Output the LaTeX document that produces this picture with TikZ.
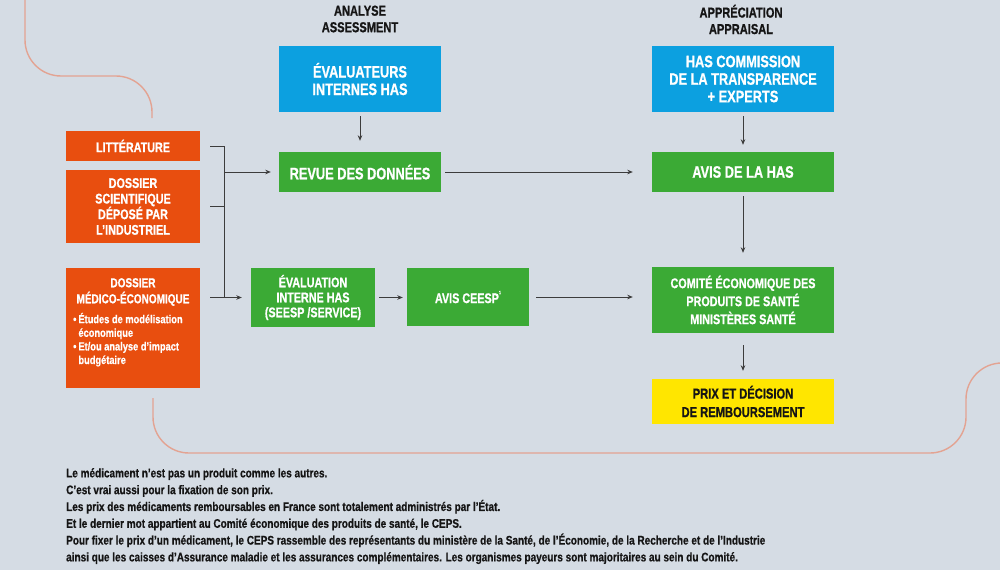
\documentclass[tikz,border=0pt]{standalone}
\usepackage{fontspec}
\setmainfont{Liberation Sans}[FakeStretch=0.77, BoldFeatures={FakeBold=0.8}]
\newfontfamily\bodyfont{Liberation Sans}[FakeStretch=0.8, BoldFeatures={FakeBold=0.6}]
\usetikzlibrary{arrows.meta,calc}
\definecolor{bg}{HTML}{D5DCE4}
\definecolor{cblue}{HTML}{0CA0E0}
\definecolor{cgreen}{HTML}{3BAA35}
\definecolor{corange}{HTML}{E84E0F}
\definecolor{cyellow}{HTML}{FFE600}
\definecolor{cline}{HTML}{3C3C3C}
\definecolor{csalmon}{HTML}{E3A392}
\definecolor{ctext}{HTML}{151515}
\begin{document}
\begin{tikzpicture}[x=1pt,y=-1pt,
  box/.style={draw=none, inner sep=0pt, align=center, text=white},
  big/.style={font=\bfseries\fontsize{16.6}{17.5}\selectfont},
  mid/.style={font=\bfseries\fontsize{14}{15}\selectfont},
  bluebox/.style={box, big, fill=cblue},
  greenbox/.style={box, fill=cgreen},
  orangebox/.style={box, mid, fill=corange},
  yellowbox/.style={box, fill=cyellow, text=ctext},
  header/.style={align=center, text=ctext, inner sep=0pt, font=\bfseries\fontsize{14.4}{16.5}\selectfont},
  conn/.style={draw=cline, line width=0.8pt, -{Stealth[length=5.5pt,width=4.5pt]}},
  plain/.style={draw=cline, line width=0.8pt},
  deco/.style={draw=csalmon, line width=1.4pt, rounded corners=36pt}
]
\fill[bg] (0,0) rectangle (1000,570);
\useasboundingbox (0,0) rectangle (1000,570);

% decorative curves
\draw[deco] (25,-5) -- (25,76) -- (152,76) -- (152,118);
\draw[deco] (153,398) -- (153,453) -- (966,453) -- (966,363) -- (1010,363);

% headers
\node[header] (h1) at (360,19) {ANALYSE\\ASSESSMENT};
\node[header] (h2) at (741,19.5) {APPRÉCIATION\\APPRAISAL};

% top boxes
\node[bluebox, minimum width=162pt, minimum height=66pt] (eval) at (360,79) {ÉVALUATEURS\\INTERNES HAS};
\node[bluebox, minimum width=182pt, minimum height=66pt] (has) at (743,79) {HAS COMMISSION\\DE LA TRANSPARENCE\\+ EXPERTS};

\node[greenbox, big, minimum width=162pt, minimum height=40pt] (revue) at (360,172) {REVUE DES DONNÉES};
\node[greenbox, big, minimum width=182pt, minimum height=40pt] (avishas) at (743,172) {AVIS DE LA HAS};

% orange sources
\node[orangebox, minimum width=134pt, minimum height=30pt] (lit) at (133,146) {LITTÉRATURE};
\node[orangebox, font=\bfseries\fontsize{14}{15.6}\selectfont, minimum width=134pt, minimum height=73pt] (dsci) at (133,206.5) {DOSSIER\\SCIENTIFIQUE\\DÉPOSÉ PAR\\L’INDUSTRIEL};
\node[orangebox, minimum width=134pt, minimum height=120pt] (dmed) at (133,328) {};
\node[box, font=\bfseries\fontsize{13}{16}\selectfont] (dmedt) at (133,292) {DOSSIER\\MÉDICO-ÉCONOMIQUE};
\node[box, anchor=west, align=left, font=\bodyfont\bfseries\fontsize{11.6}{13.6}\selectfont] (dmedb) at (73,340.5)
  {\begin{tabular}{@{}l@{\hspace{2pt}}l@{}}•&Études de modélisation\\&économique\\•&Et/ou analyse d’impact\\&budgétaire\end{tabular}};

% lower row
\node[greenbox, mid, minimum width=124pt, minimum height=59pt] (evalint) at (313,297.5) {ÉVALUATION\\INTERNE HAS\\(SEESP /SERVICE)};
\node[greenbox, mid, minimum width=122pt, minimum height=58pt] (ceesp) at (468,297) {AVIS CEESP\raisebox{1.2ex}{\fontsize{5}{5}\selectfont 1}};
\node[greenbox, font=\bfseries\fontsize{14}{18}\selectfont, minimum width=182pt, minimum height=66pt] (comite) at (743,300) {COMITÉ ÉCONOMIQUE DES\\PRODUITS DE SANTÉ\\MINISTÈRES SANTÉ};
\node[yellowbox, font=\bfseries\fontsize{14.5}{18.5}\selectfont, minimum width=182pt, minimum height=45pt] (prix) at (743,401.5) {PRIX ET DÉCISION\\DE REMBOURSEMENT};

% connectors
\draw[conn] ($(eval.south)+(0,4)$) -- ($(revue.north)+(0,-11)$);
\draw[conn] ($(has.south)+(0,4)$) -- ($(avishas.north)+(0,-7)$);
\draw[conn] ($(avishas.south)+(0,4)$) -- ($(comite.north)+(0,-14)$);
\draw[conn] ($(comite.south)+(0,12)$) -- ($(prix.north)+(0,-8)$);
\draw[conn] ($(revue.east)+(4,0)$) -- ($(avishas.west)+(-19,0)$);
\draw[conn] ($(ceesp.east)+(7,0)$) -- ($(comite.west |- ceesp.east)+(-19,0)$);
\draw[conn] ($(evalint.east)+(4,0)$) -- ($(ceesp.west |- evalint.east)+(-4,0)$);

% bracket
\coordinate (jtop) at ($(lit.east)+(24,0)$);
\coordinate (jrev) at (jtop |- revue.west);
\coordinate (jbot) at (jtop |- evalint.west);
\draw[plain] ($(lit.east)+(10,0)$) -- (jtop) -- (jbot);
\draw[plain] ($(dsci.east)+(10,0)$) -- (jtop |- dsci.east);
\draw[conn] (jrev) -- ($(revue.west)+(-8,0)$);
\draw[conn] ($(dmed.east |- evalint.west)+(10,0)$) -- ($(evalint.west)+(-9,0)$);

% bottom text
\node[anchor=north west, inner sep=0pt, align=left, text=ctext, font=\bodyfont\bfseries\fontsize{12.5}{16.8}\selectfont] (txt) at (66,468)
{Le médicament n’est pas un produit comme les autres.\\
C’est vrai aussi pour la fixation de son prix.\\
Les prix des médicaments remboursables en France sont totalement administrés par l’État.\\
Et le dernier mot appartient au Comité économique des produits de santé, le CEPS.\\
Pour fixer le prix d’un médicament, le CEPS rassemble des représentants du ministère de la Santé, de l’Économie, de la Recherche et de l’Industrie\\
ainsi que les caisses d’Assurance maladie et les assurances complémentaires. Les organismes payeurs sont majoritaires au sein du Comité.};
\end{tikzpicture}
\end{document}
